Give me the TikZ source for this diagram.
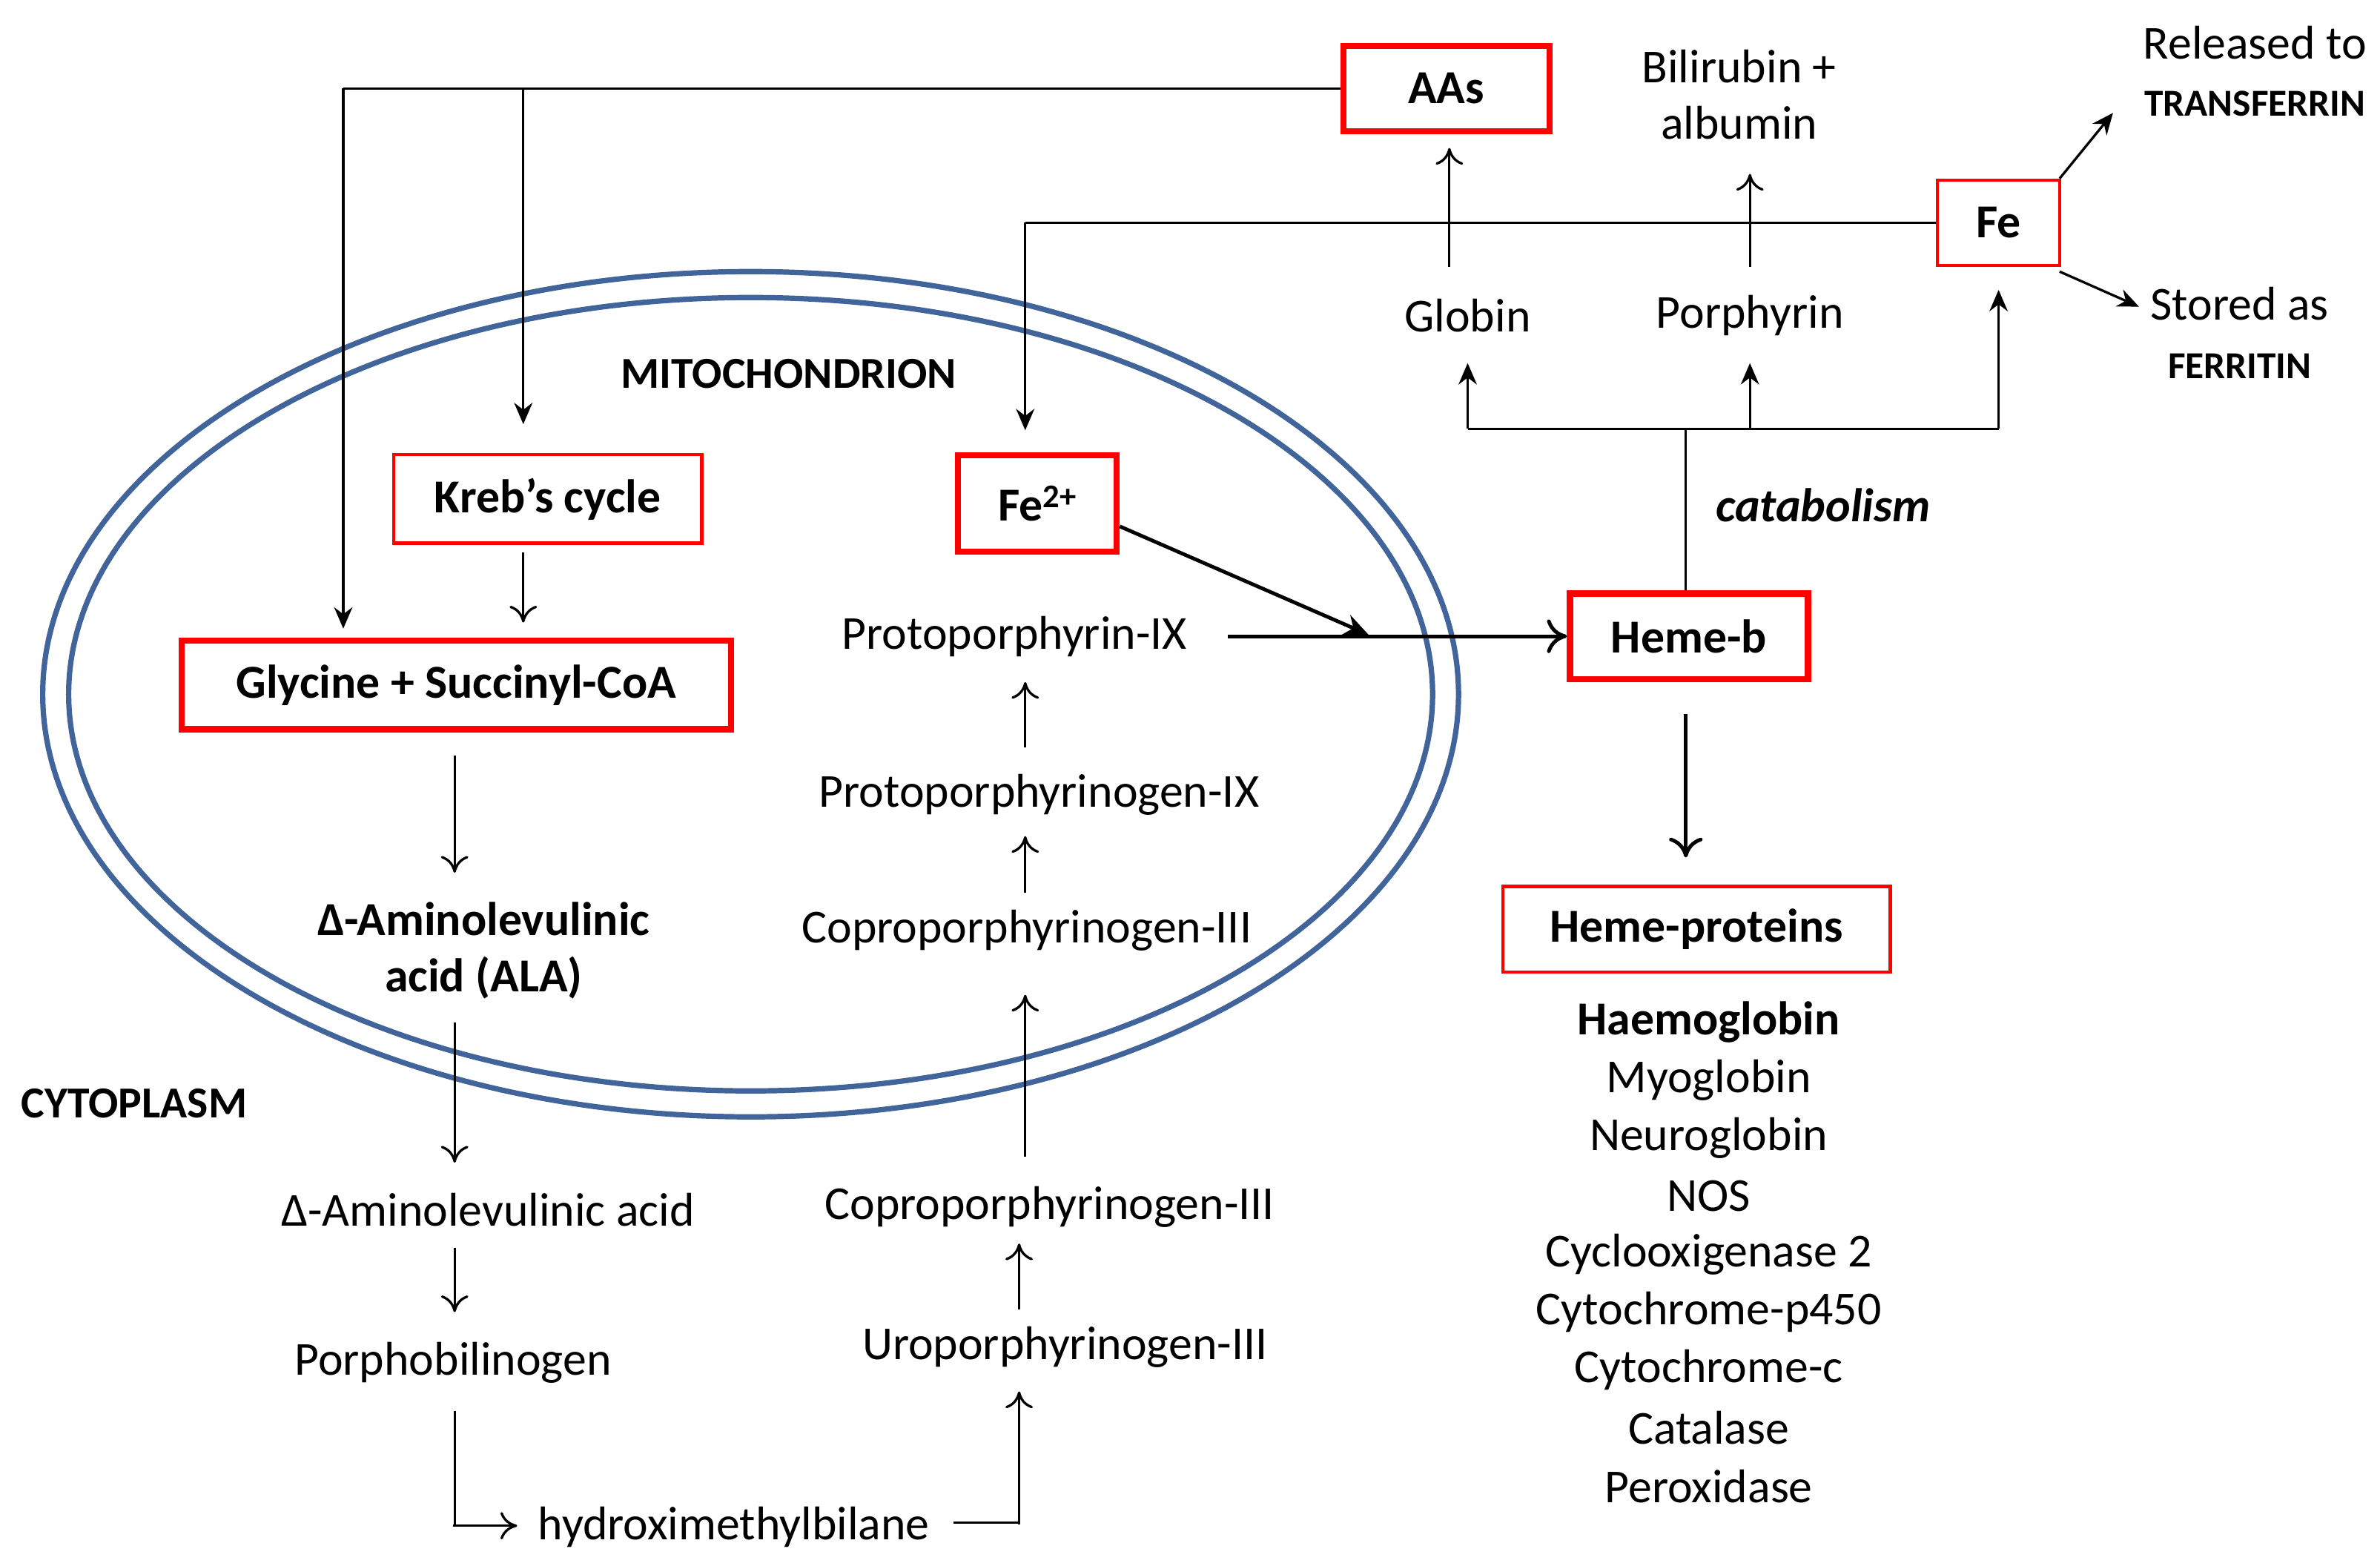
\documentclass[tikz,border=0pt]{standalone}
\usepackage{fontspec}
\setmainfont{Carlito}
\usetikzlibrary{arrows.meta}
\begin{document}
\begin{tikzpicture}[x=1pt,y=-1pt,
  every node/.style={font=\fontsize{31}{36}\selectfont,inner sep=0pt},
  tk/.style={draw=red,line width=4pt,minimum height=56pt,font=\fontsize{31}{36}\selectfont\bfseries},
  tn/.style={draw=red,line width=2pt,minimum height=56pt,font=\fontsize{31}{36}\selectfont\bfseries},
  ar/.style={line width=1.6pt,-{To[length=11pt,width=18pt]}},
  sa/.style={line width=1.6pt,-{Stealth[length=14pt,width=12pt]}},
  ln/.style={line width=1.6pt},
  sm/.style={font=\fontsize{25}{29}\selectfont\bfseries}]
\useasboundingbox (0,0) rectangle (1560,1026);
% ellipse
\draw[draw={rgb,255:red,65;green,100;blue,155},line width=3.5pt] (492,455) ellipse (464 and 277);
\draw[draw={rgb,255:red,65;green,100;blue,155},line width=3.5pt] (492,455) ellipse (447 and 260);
% boxes
\node[tk,minimum width=135pt] (aas) at (948,58) {AAs};
\node[tn,minimum width=80pt] (fe) at (1310,146) {Fe};
\node[tk,minimum width=156pt] (heme) at (1107,417) {Heme-b};
\node[tn,minimum width=254pt] (hp) at (1112,609) {Heme-proteins};
\node[tn,minimum width=202pt,minimum height=58pt] (kreb) at (359,327) {Kreb’s cycle};
\node[tk,minimum width=360pt,minimum height=58pt] (gly) at (299,449) {Glycine + Succinyl-CoA};
\node[tk,minimum width=104pt,minimum height=63pt] (fe2) at (680,330) {Fe\textsuperscript{2+}};
% texts
\node[align=center] (bil) at (1140,62) {Bilirubin +\\[1pt]albumin};
\node (rel) at (1478,28) {Released to};
\node[sm] (tra) at (1478,68) {TRANSFERRIN};
\node (sto) at (1468,199) {Stored as};
\node[sm] (fer) at (1468,240) {FERRITIN};
\node (glob) at (962,207) {Globin};
\node (por) at (1147,207) {Porphyrin};
\node[font=\fontsize{31}{36}\selectfont\bfseries\itshape] (cat) at (1195,331) {catabolism};
\node[font=\fontsize{29}{33}\selectfont\bfseries] (mito) at (517,245) {MITOCHONDRION};
\node[font=\fontsize{29}{33}\selectfont\bfseries] (cyto) at (88,723) {CYTOPLASM};
\node[align=center,font=\fontsize{31}{36}\selectfont\bfseries] (ala) at (317,623) {Δ-Aminolevulinic\\[1pt]acid (ALA)};
\node (ala2) at (320,793) {Δ-Aminolevulinic acid};
\node (pbg) at (297,893) {Porphobilinogen};
\node (hmb) at (481,1001) {hydroximethylbilane};
\node (uro) at (698,883) {Uroporphyrinogen-III};
\node (copc) at (688,791) {Coproporphyrinogen-III};
\node (copm) at (673,610) {Coproporphyrinogen-III};
\node (proto) at (681,521) {Protoporphyrinogen-IX};
\node (ppix) at (665,417) {Protoporphyrin-IX};
\node[font=\fontsize{31}{36}\selectfont\bfseries] at (1120,670) {Haemoglobin};
\foreach \t [count=\i] in {Myoglobin,Neuroglobin,NOS,Cyclooxigenase 2,Cytochrome-p450,Cytochrome-c,Catalase,Peroxidase}
  \node at (1120,670+38*\i) {\t};
% AAs lines
\coordinate (a1) at (225,58); \coordinate (a2) at (343,58);
\draw[ln] (aas.west) -- (a1);
\draw[sa] (a1) -- (225,412);
\draw[sa] (a2) -- (343,278);
\draw[ar] (343,362) -- (343,408);
% Fe line
\coordinate (f1) at (672,146);
\draw[ln] (fe.west) -- (f1);
\draw[sa] (f1) -- (672,282);
\draw[sa] (1350,117) -- (1385,74);
\draw[sa] (1350,178) -- (1402,201);
\draw[ar] (950,175) -- (950,97);
\draw[ar] (1147,175) -- (1147,114);
% catabolism
\coordinate (c0) at (1105,281);
\draw[ln] (heme.north -| c0) -- (c0);
\draw[ln] (962,281) -- (1310,281);
\draw[sa] (962,281) -- (962,238);
\draw[sa] (1147,281) -- (1147,238);
\draw[sa] (1310,281) -- (1310,190);
\draw[line width=2.4pt,-{To[length=13pt,width=22pt]}] (1105,468) -- (1105,562);
% heme
\draw[line width=2.4pt,-{To[length=13pt,width=22pt]}] (805,417) -- (heme.west);
\draw[line width=2.4pt,-{Stealth[length=16pt,width=14pt]}] (fe2.east |- 0,345) -- (897,416);
% left chain
\draw[ar] (298,495) -- (298,572);
\draw[ar] (298,670) -- (298,762);
\draw[ar] (298,818) -- (298,860);
\draw[ln] (298,925) -- (298,1000);
\draw[ar] (297,1000) -- (339,1000);
\draw[ln] (625,998) -- (668,998);
\draw[ar] (668,999) -- (668,912);
\draw[ar] (668,858) -- (668,815);
\draw[ar] (672,758) -- (672,652);
\draw[ar] (672,585) -- (672,548);
\draw[ar] (672,490) -- (672,447);
\end{tikzpicture}
\end{document}
